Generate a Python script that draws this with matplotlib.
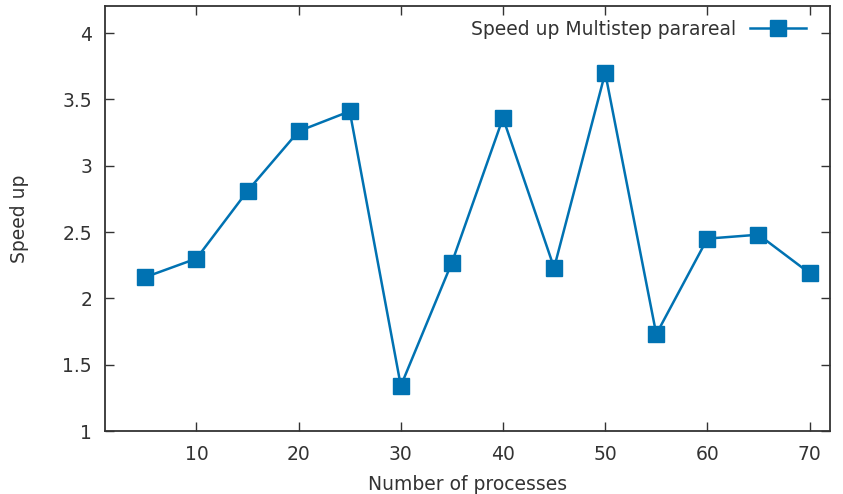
import matplotlib
matplotlib.use("Agg")
import matplotlib.pyplot as plt

processes = [5, 10, 15, 20, 25, 30, 35, 40, 45, 50, 55, 60, 65, 70]
speedup = [2.16, 2.30, 2.81, 3.26, 3.41, 1.34, 2.27, 3.36, 2.23, 3.70, 1.73, 2.45, 2.48, 2.19]
xticks = [10, 20, 30, 40, 50, 60, 70]
yticks = [1, 1.5, 2, 2.5, 3, 3.5, 4]
ytick_labels = ["1", "1.5", "2", "2.5", "3", "3.5", "4"]

W, H = 843, 494
fig = plt.figure(figsize=(W / 100, H / 100), dpi=100)
ax = fig.add_axes([104.5 / W, (H - 431) / H, (830 - 104.5) / W, (431 - 6.5) / H])

txt = "#333333"
fs = 13.5
ax.plot(processes, speedup, color="#0072b2", lw=1.8, marker="s", ms=12,
        label="Speed up Multistep parareal")

ax.set_xlim(1, 72)
ax.set_ylim(1, 4.2)
ax.set_xticks(xticks)
ax.set_yticks(yticks)
ax.set_yticklabels(ytick_labels)
ax.tick_params(direction="in", length=6.5, width=1, colors=txt,
               labelsize=fs, top=True, right=True, pad=9)
ax.tick_params(axis="x", pad=10)
for s in ax.spines.values():
    s.set_color(txt)
    s.set_linewidth(1.3)

ax.set_xlabel("Number of processes", fontsize=fs, color=txt, labelpad=8)
ax.set_ylabel("Speed up", fontsize=fs, color=txt, labelpad=24)

leg = ax.legend(loc="upper right", frameon=False, fontsize=fs, markerfirst=False,
                handlelength=3.0, handletextpad=0.7, borderaxespad=0.3,
                bbox_to_anchor=(0.985, 1.0))
for t in leg.get_texts():
    t.set_color(txt)

fig.savefig("out.png", dpi=100)
